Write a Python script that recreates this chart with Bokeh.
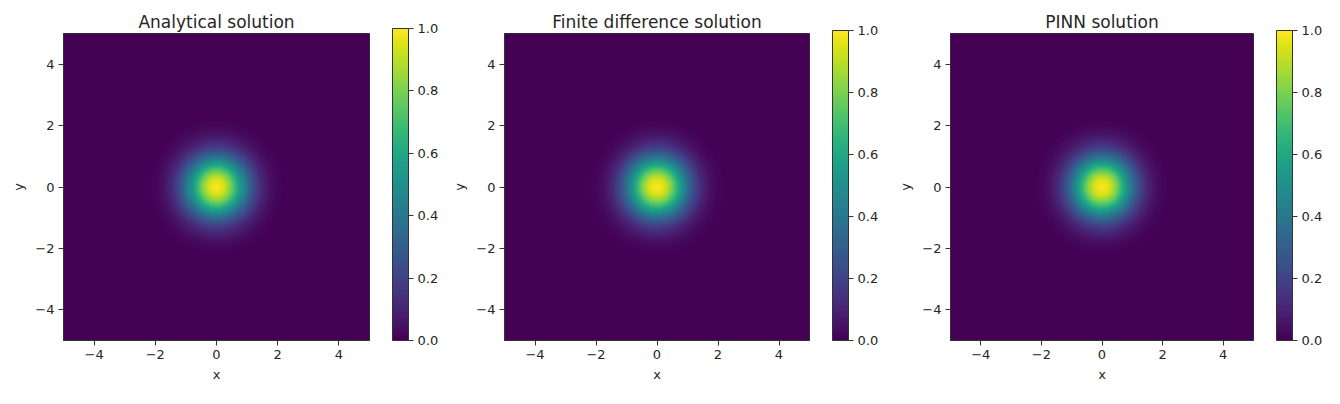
import numpy as np
from bokeh.plotting import figure
from bokeh.layouts import row
from bokeh.models import (LinearColorMapper, ColorBar, FixedTicker, NumeralTickFormatter,
                          Range1d, CustomJSTickFormatter, BoxAnnotation)
from bokeh.palettes import Viridis256
from bokeh.embed import file_html
from bokeh.resources import INLINE

# ---- data ----
titles = ["Analytical solution", "Finite difference solution", "PINN solution"]
# radial profile u(r) of each field (peak at origin)
r_samples = [0.0, 0.25, 0.5, 0.75, 1.0, 1.25, 1.5, 1.75, 2.0, 2.25, 2.5, 3.0, 8.0]
analytical_profile = [1.0, 0.94, 0.78, 0.57, 0.37, 0.21, 0.105, 0.047, 0.018, 0.006, 0.002, 0.0, 0.0]
fd_profile = [1.0, 0.94, 0.78, 0.57, 0.37, 0.21, 0.105, 0.047, 0.018, 0.006, 0.002, 0.0, 0.0]
pinn_profile = [1.0, 0.94, 0.78, 0.57, 0.37, 0.21, 0.105, 0.047, 0.018, 0.006, 0.002, 0.0, 0.0]
axis_ticks = [-4, -2, 0, 2, 4]
cbar_ticks = [0.0, 0.2, 0.4, 0.6, 0.8, 1.0]
domain = [-5.0, 5.0]

profiles = [analytical_profile, fd_profile, pinn_profile]

# layout per panel: (border_left, frame_w, border_right, border_top, frame_h, border_bottom)
layouts = [
    (63, 306, 80, 30, 312, 45),
    (55, 305, 86, 30, 310, 47),
    (55, 303, 71, 33, 310, 44),
]

n = 300
xs = np.linspace(domain[0], domain[1], n)
X, Y = np.meshgrid(xs, xs)
R = np.sqrt(X ** 2 + Y ** 2)

minus_fmt = CustomJSTickFormatter(code="""
    return tick < 0 ? "\u2212" + Math.abs(tick) : String(tick);
""")

TXT = "#262626"
LINE = "#333333"
FONT = "DejaVu Sans"

figs = []
for title, prof, (bl, fw, br, bt, fh, bb) in zip(titles, profiles, layouts):
    Z = np.interp(R, r_samples, prof)
    mapper = LinearColorMapper(palette=Viridis256, low=0.0, high=1.0)
    p = figure(title=title, width=bl + fw + br, height=bt + fh + bb,
               x_range=Range1d(domain[0], domain[1]), y_range=Range1d(domain[0], domain[1]),
               output_backend="svg", toolbar_location=None,
               min_border_left=bl, min_border_right=br, min_border_top=bt, min_border_bottom=bb)
    p.image(image=[Z], x=domain[0], y=domain[0], dw=domain[1] - domain[0], dh=domain[1] - domain[0],
            color_mapper=mapper)
    p.add_layout(BoxAnnotation(left=domain[0], right=domain[1], bottom=domain[0], top=domain[1],
                               fill_alpha=0, line_color=LINE, line_width=1))
    p.grid.visible = False
    p.outline_line_color = LINE
    p.title.align = "center"
    p.title.text_font = FONT
    p.title.text_font_size = "17px"
    p.title.text_font_style = "normal"
    p.title.text_color = TXT
    p.title.standoff = 4
    for ax in (p.xaxis[0], p.yaxis[0]):
        ax.ticker = FixedTicker(ticks=axis_ticks)
        ax.formatter = minus_fmt
        ax.minor_tick_line_color = None
        ax.major_tick_in = 0
        ax.major_tick_out = 5
        ax.major_tick_line_color = LINE
        ax.axis_line_color = LINE
        ax.major_label_text_font = FONT
        ax.major_label_text_font_size = "13px"
        ax.major_label_text_color = TXT
        ax.axis_label_text_font = FONT
        ax.axis_label_text_font_size = "13px"
        ax.axis_label_text_font_style = "normal"
        ax.axis_label_text_color = TXT
        ax.major_label_standoff = 4
    p.xaxis.axis_label = "x"
    p.yaxis.axis_label = "y"
    p.yaxis.axis_label_standoff = 6
    p.xaxis.axis_label_standoff = 5

    cb = ColorBar(color_mapper=mapper, ticker=FixedTicker(ticks=cbar_ticks),
                  formatter=NumeralTickFormatter(format="0.0"),
                  width=16, height=fh, padding=0, margin=0, location=(fw + 23, 0),
                  major_tick_in=0, major_tick_out=5, major_tick_line_color=LINE,
                  bar_line_color=LINE, bar_line_width=1, label_standoff=4,
                  major_label_text_font=FONT, major_label_text_font_size="13px",
                  major_label_text_color=TXT,
                  background_fill_color=None, border_line_color=None)
    p.add_layout(cb, "center")
    figs.append(p)

layout = row(*figs)
open("out.html", "w").write(file_html(layout, INLINE))
